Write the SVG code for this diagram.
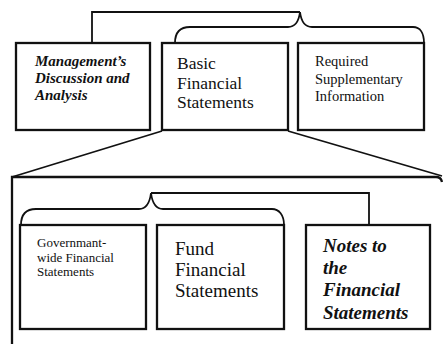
<svg xmlns="http://www.w3.org/2000/svg" width="443" height="344" viewBox="0 0 443 344">
<style>
.box{fill:#fff;stroke:#111;stroke-width:2.3}
.ln{fill:none;stroke:#111;stroke-width:1.8}
text{font-family:"Liberation Serif","Times New Roman",serif;fill:#111}
.bi{font-weight:bold;font-style:italic}
</style>
<rect width="443" height="344" fill="#fff"/>
<g id="connectors">
<path class="ln" d="M92,43 L92,12 L300,12"/>
<path class="ln" d="M175,43 C175,33 180,27 190,27 L288,27 C296,27 299,20 300,12 C301,20 304,27 312,27 L413,27 C420,27 424,33 424,43"/>
<path class="ln" d="M162,131 L12,177"/>
<path class="ln" d="M288,131 L442,176"/>
<path class="ln" d="M21,225 C21,215 26,209 36,209 L139,209 C147,209 150,201 151,193 C152,201 155,209 163,209 L272,209 C279,209 284,215 284,225"/>
<path class="ln" d="M151,193 L369,193 L369,225"/>
</g>
<g id="basic-container">
<path class="box" style="fill:none" d="M12,346 L12,177 L436,177 Q441,177 442,182"/>
</g>
<g id="mdna">
<rect class="box" x="16" y="43" width="134" height="87"/>
<text class="bi" font-size="15"><tspan x="35" y="66">Management’s</tspan><tspan x="35" y="83">Discussion and</tspan><tspan x="35" y="100">Analysis</tspan></text>
</g>
<g id="basic">
<rect class="box" x="162" y="43" width="126" height="87"/>
<text font-size="17.5"><tspan x="177" y="69">Basic</tspan><tspan x="177" y="89">Financial</tspan><tspan x="177" y="108">Statements</tspan></text>
</g>
<g id="rsi">
<rect class="box" x="298" y="43" width="126" height="87"/>
<text font-size="14.5"><tspan x="315" y="66">Required</tspan><tspan x="315" y="84">Supplementary</tspan><tspan x="315" y="101">Information</tspan></text>
</g>
<g id="govwide">
<rect class="box" x="20" y="225" width="126" height="104"/>
<text font-size="13"><tspan x="37" y="247">Governmant-</tspan><tspan x="37" y="262">wide Financial</tspan><tspan x="37" y="276">Statements</tspan></text>
</g>
<g id="fund">
<rect class="box" x="157" y="225" width="127" height="104"/>
<text font-size="19"><tspan x="175" y="255">Fund</tspan><tspan x="175" y="276">Financial</tspan><tspan x="175" y="297">Statements</tspan></text>
</g>
<g id="notes">
<rect class="box" x="306" y="225" width="124" height="104"/>
<text class="bi" font-size="19"><tspan x="323" y="252">Notes to</tspan><tspan x="323" y="274">the</tspan><tspan x="323" y="296">Financial</tspan><tspan x="323" y="319">Statements</tspan></text>
</g>
</svg>
